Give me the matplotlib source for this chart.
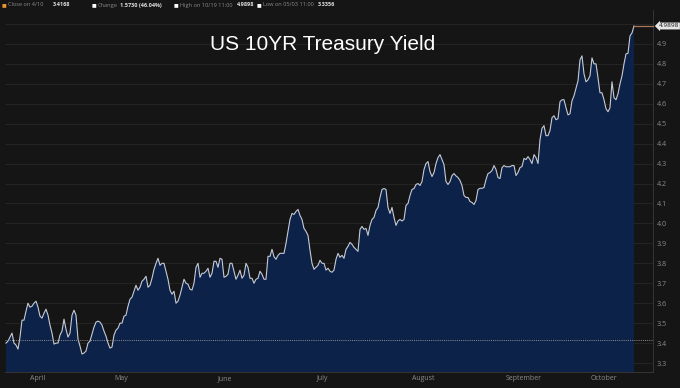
import matplotlib
matplotlib.use('Agg')
import matplotlib.pyplot as plt

# US 10Y yield, sampled evenly across the chart (Apr -> Oct 19)
yield_pts = [
    3.40, 3.41, 3.43, 3.45, 3.40, 3.39, 3.37, 3.43, 3.515, 3.515,
    3.56, 3.60, 3.58, 3.585, 3.60, 3.61, 3.58, 3.535, 3.525, 3.55,
    3.57, 3.54, 3.49, 3.45, 3.395, 3.40, 3.40, 3.44, 3.46, 3.52,
    3.47, 3.43, 3.45, 3.54, 3.565, 3.54, 3.42, 3.385, 3.345, 3.35,
    3.36, 3.40, 3.41, 3.445, 3.48, 3.505, 3.51, 3.505, 3.49, 3.46,
    3.435, 3.40, 3.375, 3.38, 3.44, 3.465, 3.475, 3.50, 3.50, 3.535,
    3.54, 3.585,
    3.62, 3.63, 3.66, 3.69, 3.665, 3.68, 3.71, 3.72, 3.735, 3.68,
    3.69, 3.725, 3.77, 3.80, 3.825, 3.79, 3.80, 3.80, 3.76, 3.72,
    3.665, 3.645, 3.66, 3.60, 3.61, 3.64, 3.68, 3.72, 3.70, 3.695,
    3.67, 3.666, 3.70, 3.78, 3.80, 3.73, 3.75, 3.75, 3.76, 3.775,
    3.73, 3.75, 3.81, 3.81, 3.78, 3.825, 3.82, 3.73, 3.735, 3.745,
    3.80, 3.80, 3.76, 3.72, 3.74, 3.765, 3.725, 3.74, 3.80, 3.78,
    3.725, 3.725, 3.70,
    3.72, 3.725, 3.76, 3.745, 3.72, 3.72, 3.835, 3.835, 3.87, 3.833,
    3.82, 3.84, 3.85, 3.85, 3.85, 3.90, 3.96, 4.02, 4.05, 4.045,
    4.06, 4.07, 4.04, 4.02, 3.975, 3.96, 3.94, 3.866, 3.80, 3.77,
    3.78, 3.79, 3.815, 3.80, 3.80, 3.766, 3.775, 3.76, 3.755, 3.766,
    3.82, 3.85, 3.83, 3.84, 3.825, 3.87, 3.885, 3.905, 3.895, 3.88,
    3.87, 3.86, 3.97, 3.985, 3.97, 3.975, 3.94, 3.99, 4.02, 4.03,
    4.065,
    4.08, 4.13, 4.17, 4.175, 4.17, 4.08, 4.05, 4.08, 4.03, 3.99,
    4.012, 4.02, 4.012, 4.02, 4.09, 4.10, 4.14, 4.17, 4.175, 4.195,
    4.20, 4.19, 4.21, 4.27, 4.30, 4.31, 4.26, 4.235, 4.255, 4.30,
    4.33, 4.345, 4.32, 4.295, 4.21, 4.195, 4.21, 4.24, 4.25, 4.238,
    4.23, 4.215, 4.19, 4.14, 4.13, 4.13, 4.11, 4.105, 4.095, 4.115,
    4.17, 4.176, 4.176, 4.18, 4.22, 4.25, 4.255, 4.265, 4.29, 4.27,
    4.23, 4.225, 4.28, 4.29,
    4.284, 4.284, 4.284, 4.29, 4.29, 4.24, 4.255, 4.28, 4.285, 4.326,
    4.32, 4.335, 4.32, 4.30, 4.345, 4.33, 4.30, 4.42, 4.477, 4.49,
    4.44, 4.44, 4.466, 4.53, 4.54, 4.52, 4.525, 4.61, 4.62, 4.62,
    4.58, 4.544, 4.55, 4.615, 4.64, 4.677, 4.715, 4.82, 4.84, 4.75,
    4.71, 4.72, 4.74, 4.83, 4.80, 4.80, 4.73, 4.655, 4.655, 4.62,
    4.575, 4.56, 4.58, 4.71, 4.63, 4.62, 4.65, 4.70, 4.74, 4.80,
    4.85, 4.853, 4.94, 4.955, 4.9898,
]

months = ['April', 'May', 'June', 'July', 'August', 'September', 'October']
month_idx = [15.75, 57.85, 109.25, 158.35, 208.65, 258.65, 298.85]
yticks = [3.3, 3.4, 3.5, 3.6, 3.7, 3.8, 3.9, 4.0, 4.1, 4.2, 4.3, 4.4, 4.5, 4.6, 4.7, 4.8, 4.9]
grid_levels = yticks + [5.0]
close_val = 3.4168
last_val = 4.9898

header_keys = ['Close on 4/10', 'Change', 'High on 10/19 11:00', 'Low on 05/03 11:00']
header_vals = ['3.4168', '1.5730 (46.04%)', '4.9898', '3.3356']
header_marks = ['#e8962e', '#ffffff', '#ffffff', '#ffffff']

BG = '#151515'
W, H = 680, 388

fig = plt.figure(figsize=(6.8, 3.88), dpi=100, facecolor=BG)
ax = fig.add_axes([5 / W, 16 / H, 648 / W, 362 / H], facecolor=BG)

xs = list(range(len(yield_pts)))
ax.fill_between(xs, yield_pts, 3.0, color='#0d2248', lw=0, zorder=2)
ax.plot(xs, yield_pts, color='#c6cad4', lw=0.8, zorder=3)

for g in grid_levels:
    ax.axhline(g, color='#262626', lw=0.6, zorder=1)
ax.axhline(close_val, color='#8f8f8f', lw=0.7, ls=(0, (1, 1.2)), zorder=4)

# last value marker
ax.plot([xs[-1], 323.5], [last_val, last_val], color='#a8765a', lw=0.9, zorder=4,
        clip_on=False)
ax.annotate('4.9898', xy=(323.5, last_val), xycoords='data',
            xytext=(4, 0), textcoords='offset points', ha='left', va='center',
            fontsize=4.6, color='#111111', family='Open Sans', annotation_clip=False,
            bbox=dict(boxstyle='larrow,pad=0.15', fc='#e6e6e6', ec='none'))

ax.set_xlim(-0.5, 323.5)
ax.set_ylim(3.255, 5.07)
ax.yaxis.tick_right()
ax.set_yticks(yticks)
ax.set_yticklabels([f'{t:.1f}' for t in yticks])
ax.set_xticks(month_idx)
ax.set_xticklabels(months)
ax.tick_params(axis='y', length=0, pad=2.5, labelsize=5.2, labelcolor='#8a8a8a')
ax.tick_params(axis='x', length=0, pad=2.5, labelsize=5, labelcolor='#8a8a8a')
for lab in ax.get_xticklabels() + ax.get_yticklabels():
    lab.set_family('Open Sans')

for side in ['left', 'top']:
    ax.spines[side].set_visible(False)
for side in ['right', 'bottom']:
    ax.spines[side].set_color('#353535')
    ax.spines[side].set_linewidth(0.7)

fig.text(323 / W, 1 - 45 / H, 'US 10YR Treasury Yield', ha='center', va='center',
         fontsize=15, color='white', family='Liberation Sans')

# header strip
key_x = [8, 98, 180, 263]
val_x = [53, 120, 237, 318]
mark_x = [4, 94, 176, 259]
hy = 1 - 5 / H
for k, v, c, kx, vx, mx in zip(header_keys, header_vals, header_marks, key_x, val_x, mark_x):
    fig.text(mx / W, hy, '■', ha='center', va='center', fontsize=3.6, color=c,
             family='DejaVu Sans')
    fig.text(kx / W, hy, k, ha='left', va='center', fontsize=4.1, color='#8a8a8a',
             family='Open Sans')
    fig.text(vx / W, hy, v, ha='left', va='center', fontsize=4.0, color='#e0e0e0',
             family='Open Sans', weight='bold')

fig.savefig('out.png', dpi=100, facecolor=BG)
